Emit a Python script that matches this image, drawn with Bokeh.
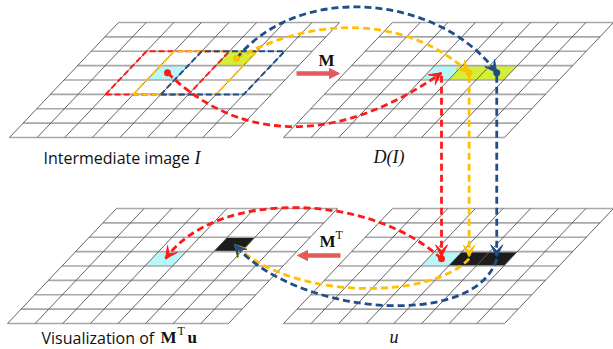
from bokeh.plotting import figure
from bokeh.models import Range1d, Arrow, VeeHead, NormalHead
from bokeh.core.properties import value
from bokeh.embed import file_html
from bokeh.resources import INLINE

# ---------------- data ----------------
n_cols = 8
n_rows = 8
grid_keys = ["I", "DI", "MTu", "u"]
cyan_cells = {"I": [(3, 4)], "DI": [(3, 4)], "MTu": [(3, 4)], "u": [(3, 4)]}
green_cells = {"I": [(5, 5)], "DI": [(4, 4), (5, 4)]}
black_cells = {"MTu": [(5, 5)], "u": [(4, 4), (5, 4)]}
window_cols = [2, 3, 4]          # left column of each 3x3 window in I
window_row = 3                   # bottom row of the windows
window_size = 3
series_colors = ["#ff1a1a", "#ffc000", "#1f4e89"]   # red, yellow, blue
top_start_cells = [(3, 4), (5, 5), (5, 5)]          # in I
top_end_cells = [(3, 4), (4, 4), (5, 4)]            # in D(I) and u
bottom_end_cells = [(3, 4), (5, 5), (5, 5)]         # in M^T u

# ---------------- layout ----------------
W, H = 613, 349
origins = {"I": (9, 137), "DI": (283, 137), "MTu": (7, 323), "u": (283, 323)}
CW, CH, SH = 221 / n_cols, 115 / n_rows, 109 / n_rows
TY = -6  # baseline correction for text rendering


def pt(g, u, v):
    bx, by = origins[g]
    return bx + CW * u + SH * v, by - CH * v


def center(g, c):
    return pt(g, c[0] + 0.5, c[1] + 0.5)


def cell_poly(g, c):
    u, v = c
    xs, ys = zip(*[pt(g, u, v), pt(g, u + 1, v), pt(g, u + 1, v + 1), pt(g, u, v + 1)])
    return list(xs), list(ys)


p = figure(width=W, height=H, x_range=Range1d(0, W), y_range=Range1d(H, 0),
           output_backend="svg", toolbar_location=None, min_border=0)
p.axis.visible = False
p.grid.visible = False
p.outline_line_color = None
p.background_fill_color = "white"

# colored cells
for cells, col in [(cyan_cells, "#b8f6f8"), (green_cells, "#d3ef3a"), (black_cells, "#1c1c1c")]:
    xs, ys = [], []
    for g, lst in cells.items():
        for c in lst:
            a, b = cell_poly(g, c)
            xs.append(a)
            ys.append(b)
    p.patches(xs, ys, fill_color=col, line_color=None)

# grids
hx, hy, sx, sy = [], [], [], []
for g in grid_keys:
    for v in range(n_rows + 1):
        x0, y0 = pt(g, 0, v)
        x1, y1 = pt(g, n_cols, v)
        hx.append([x0, x1]); hy.append([y0, y1])
    for u in range(n_cols + 1):
        x0, y0 = pt(g, u, 0)
        x1, y1 = pt(g, u, n_rows)
        sx.append([x0, x1]); sy.append([y0, y1])
p.multi_line(hx, hy, line_color="#a8a8a8", line_width=1.6)
p.multi_line(sx, sy, line_color="#555555", line_width=0.9)

# 3x3 windows in I
for wc, col in zip(window_cols, series_colors):
    corners = [pt("I", wc, window_row), pt("I", wc + window_size, window_row),
               pt("I", wc + window_size, window_row + window_size),
               pt("I", wc, window_row + window_size), pt("I", wc, window_row)]
    xs, ys = zip(*corners)
    p.line(list(xs), list(ys), line_color=col, line_width=2, line_dash="6 3")

# curved arrows (cubic bezier control points)
top_ctrl = [((245, 148), (345, 140)), ((320, 12), (410, 18)), ((300, -20), (440, -5))]
bot_ctrl = [((370, 192), (215, 188)), ((430, 300), (290, 300)), ((475, 330), (295, 315))]


def curved(p0, c1, c2, p3, col):
    p.bezier(x0=[p0[0]], y0=[p0[1]], x1=[p3[0]], y1=[p3[1]],
             cx0=[c1[0]], cy0=[c1[1]], cx1=[c2[0]], cy1=[c2[1]],
             line_color=col, line_width=2.8, line_dash="7 4")
    p.add_layout(Arrow(end=VeeHead(size=12, fill_color=col, line_color=col),
                       x_start=c2[0], y_start=c2[1], x_end=p3[0], y_end=p3[1],
                       line_alpha=0))


for i, col in enumerate(series_colors):
    s = center("I", top_start_cells[i])
    e = center("DI", top_end_cells[i])
    curved(s, top_ctrl[i][0], top_ctrl[i][1], e, col)
    # vertical link D(I) -> u
    e2 = center("u", top_end_cells[i])
    p.line([e[0], e[0]], [e[1] + 3, e2[1] - 3], line_color=col, line_width=2.8, line_dash="7 4")
    p.add_layout(Arrow(end=VeeHead(size=12, fill_color=col, line_color=col),
                       x_start=e[0], y_start=e2[1] - 20, x_end=e2[0], y_end=e2[1] - 2,
                       line_alpha=0))
    b = center("MTu", bottom_end_cells[i])
    curved(e2, bot_ctrl[i][0], bot_ctrl[i][1], b, col)

# dots
dx, dy, dc = [], [], []
for pos, col in [(center("I", top_start_cells[0]), series_colors[0]),
                 (center("I", top_start_cells[1]), series_colors[1]),
                 (center("DI", top_end_cells[1]), series_colors[1]),
                 (center("DI", top_end_cells[2]), series_colors[2]),
                 (center("u", top_end_cells[0]), series_colors[0])]:
    dx.append(pos[0]); dy.append(pos[1]); dc.append(col)
p.scatter(dx, dy, size=7, fill_color=dc, line_color=None)

# operator arrows
arrow_col = "#e35b5b"
p.add_layout(Arrow(end=NormalHead(size=10, fill_color=arrow_col, line_color=arrow_col),
                   x_start=296, y_start=73, x_end=339, y_end=73,
                   line_color=arrow_col, line_width=4.5))
p.add_layout(Arrow(end=NormalHead(size=10, fill_color=arrow_col, line_color=arrow_col),
                   x_start=340, y_start=255, x_end=297, y_end=255,
                   line_color=arrow_col, line_width=4.5))

serif = value("Liberation Serif")
sans = value("Open Sans")
ink = "#111111"


def label(x, y, s, font, size, style="normal", align="left"):
    p.text(x=[x], y=[y + TY], text=[s], text_font=font, text_font_style=style,
           text_font_size=size, text_align=align, text_baseline="alphabetic", text_color=ink)


label(326, 66, "M", serif, "17px", "bold", "center")
label(319, 247, "M", serif, "17px", "bold")
label(335, 240, "T", serif, "12px")

label(43, 163, "Intermediate image", sans, "16px")
label(194, 163, "I", serif, "18px", "italic")
label(373, 162, "D(I)", serif, "18px", "italic")

label(41, 343, "Visualization of", sans, "16px")
label(160, 343, "M", serif, "17px", "bold")
label(177, 336, "T", serif, "12px")
label(187, 343, "u", serif, "17px", "bold")
label(389, 342, "u", serif, "18px", "italic")

open("out.html", "w").write(file_html(p, INLINE))
